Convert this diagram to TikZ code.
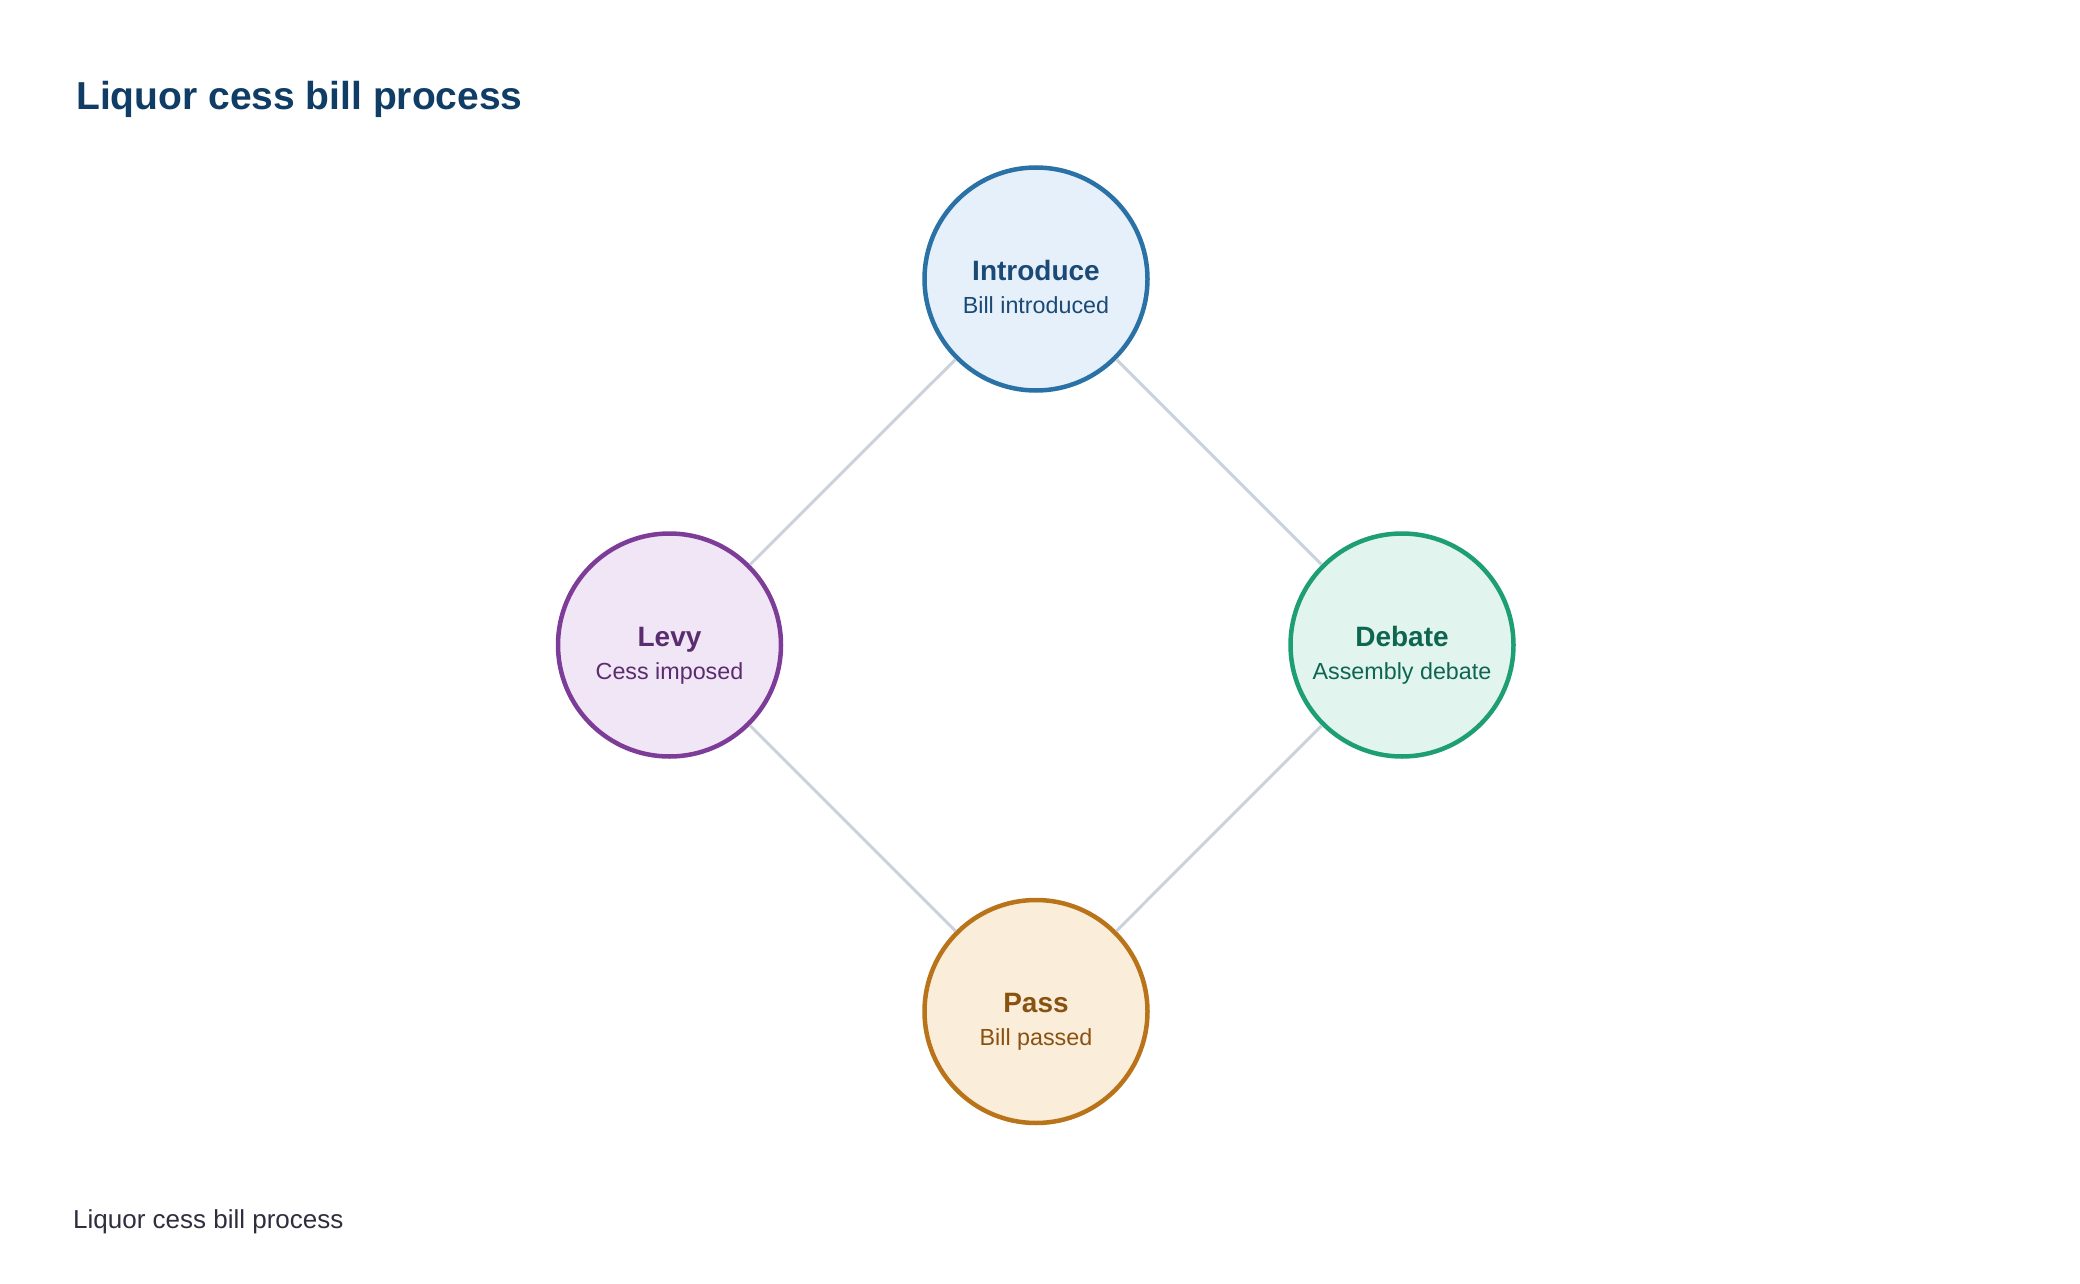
\documentclass[tikz,border=0pt]{standalone}
\usepackage{fontspec}
\setmainfont{Liberation Sans}
\definecolor{introS}{HTML}{2A71A6}
\definecolor{introF}{HTML}{E6F0FA}
\definecolor{introT}{HTML}{1A4A75}
\definecolor{levyS}{HTML}{7D3C98}
\definecolor{levyF}{HTML}{F0E6F5}
\definecolor{levyT}{HTML}{5B2C6F}
\definecolor{debS}{HTML}{1E9E74}
\definecolor{debF}{HTML}{E1F4EE}
\definecolor{debT}{HTML}{0E6650}
\definecolor{passS}{HTML}{B9741A}
\definecolor{passF}{HTML}{FAEDDA}
\definecolor{passT}{HTML}{8A5210}
\definecolor{titleC}{HTML}{0F3D66}
\definecolor{footC}{HTML}{2E2E3E}
\definecolor{linkC}{HTML}{CBD2DB}
\begin{document}
\begin{tikzpicture}[x=1pt,y=1pt,
  stage/.style={circle,line width=4.5pt,minimum size=223pt,inner sep=0pt},
  head/.style={anchor=base,font=\fontsize{28}{32}\selectfont\bfseries},
  sub/.style={anchor=base,font=\fontsize{23.3}{27}\selectfont},
  link/.style={draw=linkC,line width=3pt}]
\useasboundingbox[fill=white] (0,0) rectangle (2080,-1284);
\node[anchor=base west,text=titleC,font=\fontsize{39}{44}\selectfont\bfseries,inner sep=0pt] (title) at (76,-110) {Liquor cess bill process};
\node[anchor=base west,text=footC,font=\fontsize{26}{30}\selectfont,inner sep=0pt] (foot) at (73,-1228) {Liquor cess bill process};
\node[stage,draw=introS,fill=introF] (intro) at (1036,-279) {};
\node[stage,draw=levyS,fill=levyF] (levy) at (669.5,-645) {};
\node[stage,draw=debS,fill=debF] (deb) at (1402,-645) {};
\node[stage,draw=passS,fill=passF] (pass) at (1036,-1011.5) {};
\draw[link] (intro) -- (levy);
\draw[link] (intro) -- (deb);
\draw[link] (levy) -- (pass);
\draw[link] (deb) -- (pass);
\node[head,text=introT] (introH) at ([yshift=-1pt]intro.center) {Introduce};
\node[sub,text=introT] (introS) at ([yshift=-34pt]intro.center) {Bill introduced};
\node[head,text=levyT] (levyH) at ([yshift=-1pt]levy.center) {Levy};
\node[sub,text=levyT] (levySub) at ([yshift=-34pt]levy.center) {Cess imposed};
\node[head,text=debT] (debH) at ([yshift=-1pt]deb.center) {Debate};
\node[sub,text=debT] (debSub) at ([yshift=-34pt]deb.center) {Assembly debate};
\node[head,text=passT] (passH) at ([yshift=-1pt]pass.center) {Pass};
\node[sub,text=passT] (passSub) at ([yshift=-34pt]pass.center) {Bill passed};
\end{tikzpicture}
\end{document}
